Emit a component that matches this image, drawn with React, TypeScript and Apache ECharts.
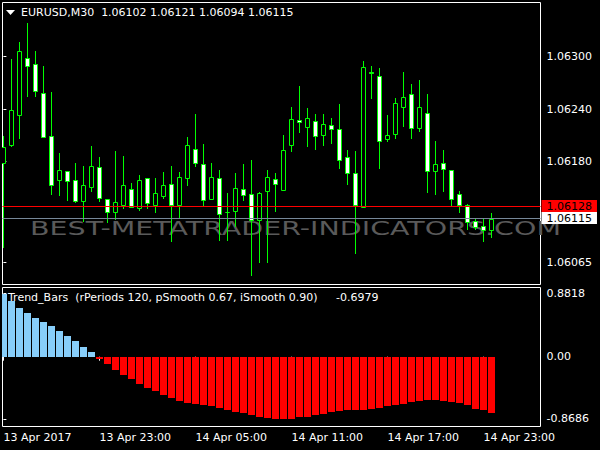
import React, { useEffect, useRef } from 'react';
import * as echarts from 'echarts';

// ---- Data (EURUSD M30, 13 Apr 17:00 .. 14 Apr 23:30) ----
const OPEN = [1.06178, 1.06199, 1.06233, 1.06299, 1.06292, 1.06258, 1.06209, 1.06159, 1.06169, 1.06159,
  1.06135, 1.06151, 1.06174, 1.06137, 1.06123, 1.06131, 1.06149, 1.06127, 1.06161, 1.06131,
  1.06141, 1.06154, 1.06131, 1.06161, 1.06195, 1.06177, 1.06137, 1.06161, 1.06123, 1.06124,
  1.06149, 1.06143, 1.06113, 1.06146, 1.06160, 1.06148, 1.06199, 1.06228, 1.06220, 1.06227,
  1.06210, 1.06222, 1.06217, 1.06185, 1.06167, 1.06128, 1.06283, 1.06278, 1.06206, 1.06212,
  1.06243, 1.06257, 1.06219, 1.06236, 1.06169, 1.06178, 1.06170, 1.06143, 1.06130, 1.06112,
  1.06107, 1.06102];
const CLOSE = [1.06197, 1.06239, 1.06306, 1.06289, 1.06261, 1.06208, 1.06153, 1.06170, 1.06158, 1.06135,
  1.06153, 1.06175, 1.06138, 1.06123, 1.06134, 1.06153, 1.06128, 1.06159, 1.06133, 1.06144,
  1.06153, 1.06131, 1.06162, 1.06199, 1.06178, 1.06136, 1.06163, 1.06120, 1.06123, 1.06150,
  1.06142, 1.06113, 1.06144, 1.06162, 1.06155, 1.06193, 1.06229, 1.06225, 1.06230, 1.06209,
  1.06223, 1.06217, 1.06182, 1.06167, 1.06131, 1.06288, 1.06281, 1.06204, 1.06210, 1.06247,
  1.06254, 1.06218, 1.06243, 1.06169, 1.06177, 1.06172, 1.06137, 1.06130, 1.06111, 1.06105,
  1.06102, 1.06115];
const LOW = [1.06083, 1.06198, 1.06207, 1.06255, 1.06255, 1.06208, 1.06143, 1.06142, 1.06136, 1.06134,
  1.06112, 1.06146, 1.06135, 1.06111, 1.06115, 1.06127, 1.06128, 1.06125, 1.06127, 1.06123,
  1.06139, 1.06089, 1.06116, 1.06153, 1.06175, 1.06129, 1.06137, 1.06091, 1.06090, 1.06106,
  1.06136, 1.06050, 1.06065, 1.06065, 1.06124, 1.06148, 1.06192, 1.06214, 1.06198, 1.06195,
  1.06199, 1.06201, 1.06173, 1.06154, 1.06076, 1.06128, 1.06253, 1.06173, 1.06204, 1.06207,
  1.06221, 1.06207, 1.06215, 1.06145, 1.06143, 1.06147, 1.06131, 1.06123, 1.06103, 1.06103,
  1.06089, 1.06094];
const HIGH = [1.06209, 1.06297, 1.06317, 1.06339, 1.06307, 1.06289, 1.06260, 1.06190, 1.06169, 1.06178,
  1.06175, 1.06198, 1.06185, 1.06137, 1.06192, 1.06187, 1.06156, 1.06165, 1.06161, 1.06161,
  1.06168, 1.06175, 1.06168, 1.06208, 1.06235, 1.06200, 1.06179, 1.06171, 1.06144, 1.06167,
  1.06177, 1.06182, 1.06145, 1.06171, 1.06167, 1.06210, 1.06243, 1.06267, 1.06241, 1.06235,
  1.06234, 1.06230, 1.06246, 1.06193, 1.06192, 1.06295, 1.06289, 1.06287, 1.06233, 1.06253,
  1.06283, 1.06269, 1.06273, 1.06257, 1.06204, 1.06193, 1.06170, 1.06146, 1.06132, 1.06114,
  1.06114, 1.06121];

const TREND_BARS = [0.8818, 0.783, 0.681, 0.611, 0.541, 0.485, 0.429, 0.359, 0.290, 0.220,
  0.136, 0.066, -0.032, -0.098, -0.186, -0.256, -0.312, -0.382, -0.438, -0.480,
  -0.536, -0.578, -0.620, -0.648, -0.662, -0.676, -0.690, -0.717, -0.745, -0.773,
  -0.787, -0.815, -0.843, -0.857, -0.8686, -0.8686, -0.866, -0.848, -0.839, -0.820,
  -0.801, -0.773, -0.764, -0.750, -0.745, -0.741, -0.731, -0.717, -0.690, -0.680,
  -0.662, -0.634, -0.624, -0.606, -0.604, -0.620, -0.634, -0.652, -0.680, -0.727,
  -0.745, -0.787];

const TIME_TICK_INDEX = [0, 12, 24, 36, 48, 60];
const TIME_LABELS = ['13 Apr 2017', '13 Apr 23:00', '14 Apr 05:00', '14 Apr 11:00', '14 Apr 17:00', '14 Apr 23:00'];
const PRICE_TICKS = [1.063, 1.0624, 1.0618, 1.06065];
const IND_TICKS = [0.8818, 0, -0.8686];
const PRICE_LINE_VALUES = [1.06128, 1.06115]; // ask, bid
const PRICE_LINE_COLORS = ['#ff0000', '#778899'];
const PRICE_BOX_COLORS = ['#ff0000', '#ffffff'];

const TITLE = 'EURUSD,M30  1.06102 1.06121 1.06094 1.06115';
const IND_TITLE = 'Trend_Bars  (rPeriods 120, pSmooth 0.67, iSmooth 0.90)';
const IND_VALUE = '-0.6979';
const WATERMARK = 'BEST-METATRADER-INDICATORS.COM';

// ---- Layout ----
const FONT = 'DejaVu Sans';
const X_MIN = -0.1125;
const X_MAX = 67.1375;
const Y_MAX = 1.06361943;
const Y_MIN = 1.06039657;
const B_MAX = 0.96783;
const B_MIN = -0.97622;
const GREEN = '#00ff00';

export default function App() {
  const ref = useRef<HTMLDivElement>(null);
  useEffect(() => {
    const chart = echarts.init(ref.current!, null, { renderer: 'svg' });
    const candleData = OPEN.map((o, i) => [i, o, CLOSE[i], LOW[i], HIGH[i]]);
    const histData = TREND_BARS.map((v, i) => [i, v]);
    const priceLineData = PRICE_LINE_VALUES.map((v, i) => [i, v]);
    const labelStyle = { color: '#ffffff', fontSize: 11, fontFamily: FONT };

    const option: any = {
      animation: false,
      backgroundColor: '#000000',
      textStyle: { fontFamily: FONT },
      grid: [
        { left: 2.5, top: 2.5, width: 538, height: 282, show: true, borderColor: '#ffffff', borderWidth: 1, backgroundColor: 'transparent' },
        { left: 2.5, top: 287.5, width: 538, height: 139, show: true, borderColor: '#ffffff', borderWidth: 1, backgroundColor: 'transparent' },
      ],
      xAxis: [
        { type: 'value', gridIndex: 0, min: X_MIN, max: X_MAX, show: false, splitLine: { show: false } },
        {
          type: 'value', gridIndex: 1, min: X_MIN, max: X_MAX,
          splitLine: { show: false }, axisLine: { show: false },
          axisTick: { show: true, customValues: TIME_TICK_INDEX, length: 4, lineStyle: { color: '#ffffff' } },
          axisLabel: {
            ...labelStyle, customValues: TIME_TICK_INDEX, align: 'left', margin: 5,
            formatter: (v: number) => TIME_LABELS[TIME_TICK_INDEX.indexOf(Math.round(v))] ?? '',
          },
        },
      ],
      yAxis: [
        {
          type: 'value', gridIndex: 0, position: 'right', min: Y_MIN, max: Y_MAX,
          splitLine: { show: false }, axisLine: { show: false },
          axisTick: { show: true, customValues: PRICE_TICKS, length: 3, lineStyle: { color: '#ffffff' } },
          axisLabel: { ...labelStyle, customValues: PRICE_TICKS, margin: 6, formatter: (v: number) => v.toFixed(5) },
        },
        {
          type: 'value', gridIndex: 1, position: 'right', min: B_MIN, max: B_MAX,
          splitLine: { show: false }, axisLine: { show: false },
          axisTick: { show: true, customValues: IND_TICKS, length: 3, lineStyle: { color: '#ffffff' } },
          axisLabel: { ...labelStyle, customValues: IND_TICKS, margin: 6, formatter: (v: number) => (Math.abs(v) < 1e-9 ? '0.00' : v.toFixed(4)) },
        },
      ],
      graphic: [
        { type: 'text', z: 1, x: 30, y: 228, scaleX: 1.425, style: { text: WATERMARK, x: 0, y: 0, fill: '#5a5a5a', fontSize: 20, fontFamily: FONT, verticalAlign: 'middle', align: 'left' } },
        { type: 'polygon', z: 10, shape: { points: [[6, 10], [15, 10], [10.5, 15]] }, style: { fill: '#ffffff' } },
        { type: 'text', z: 10, x: 21, y: 12.7, style: { text: TITLE, fill: '#ffffff', fontSize: 11, fontFamily: FONT, verticalAlign: 'middle' } },
        { type: 'text', z: 10, x: 8, y: 297.5, style: { text: IND_TITLE, fill: '#ffffff', fontSize: 11, fontFamily: FONT, verticalAlign: 'middle' } },
        { type: 'text', z: 10, x: 336, y: 297.5, style: { text: IND_VALUE, fill: '#ffffff', fontSize: 11, fontFamily: FONT, verticalAlign: 'middle' } },
      ],
      series: [
        {
          type: 'custom', xAxisIndex: 0, yAxisIndex: 0, z: 5, clip: true,
          data: candleData, encode: { x: 0, y: [1, 2, 3, 4] },
          renderItem: (params: any, api: any) => {
            const i = api.value(0);
            const o = api.value(1), c = api.value(2), l = api.value(3), h = api.value(4);
            const pO = api.coord([i, o]);
            const pC = api.coord([i, c]);
            const pL = api.coord([i, l]);
            const pH = api.coord([i, h]);
            const cx = Math.floor(pO[0]) + 0.5;
            const top = Math.round(Math.min(pO[1], pC[1]));
            const bot = Math.round(Math.max(pO[1], pC[1]));
            const up = c > o;
            return {
              type: 'group',
              children: [
                { type: 'line', shape: { x1: cx, y1: Math.round(pH[1]), x2: cx, y2: Math.round(pL[1]) + 1 }, style: { stroke: GREEN, lineWidth: 1 } },
                { type: 'rect', shape: { x: cx - 2, y: top + 0.5, width: 4, height: Math.max(bot - top, 0) }, style: { fill: up ? '#000000' : '#ffffff', stroke: GREEN, lineWidth: 1 } },
              ],
            };
          },
        },
        {
          type: 'custom', xAxisIndex: 0, yAxisIndex: 0, z: 6, clip: false, silent: true,
          data: priceLineData, encode: { x: 0, y: 1 },
          renderItem: (params: any, api: any) => {
            const k = api.value(0);
            const v = api.value(1);
            const cs = params.coordSys;
            const y = Math.round(api.coord([X_MIN, v])[1]) - 0.5;
            return {
              type: 'group',
              children: [
                { type: 'line', shape: { x1: cs.x, y1: y, x2: cs.x + cs.width, y2: y }, style: { stroke: PRICE_LINE_COLORS[k], lineWidth: 1 } },
                {
                  type: 'text', x: cs.x + cs.width + 1, y: y - 0.5,
                  style: {
                    text: v.toFixed(5), fill: '#000000', backgroundColor: PRICE_BOX_COLORS[k],
                    padding: [0, 5, 0, 5], fontSize: 11, lineHeight: 12, fontFamily: FONT,
                    verticalAlign: 'middle', align: 'left',
                  },
                },
              ],
            };
          },
        },
        {
          type: 'custom', xAxisIndex: 1, yAxisIndex: 1, z: 5, clip: true,
          data: histData, encode: { x: 0, y: 1 },
          renderItem: (params: any, api: any) => {
            const i = api.value(0);
            const v = api.value(1);
            const p = api.coord([i, v]);
            const z0 = api.coord([i, 0]);
            const x0 = Math.floor(p[0]) - 3;
            const y1 = Math.round(Math.min(p[1], z0[1]));
            const y2 = Math.round(Math.max(p[1], z0[1]));
            return {
              type: 'rect',
              shape: { x: x0, y: y1, width: 7, height: y2 - y1 },
              style: { fill: v >= 0 ? '#87cefa' : '#ff0000' },
            };
          },
        },
      ],
    };
    chart.setOption(option);
    return () => chart.dispose();
  }, []);
  return <div ref={ref} style={{ position: 'absolute', left: 0, top: 0, width: 600, height: 450, background: '#000000' }} />;
}
